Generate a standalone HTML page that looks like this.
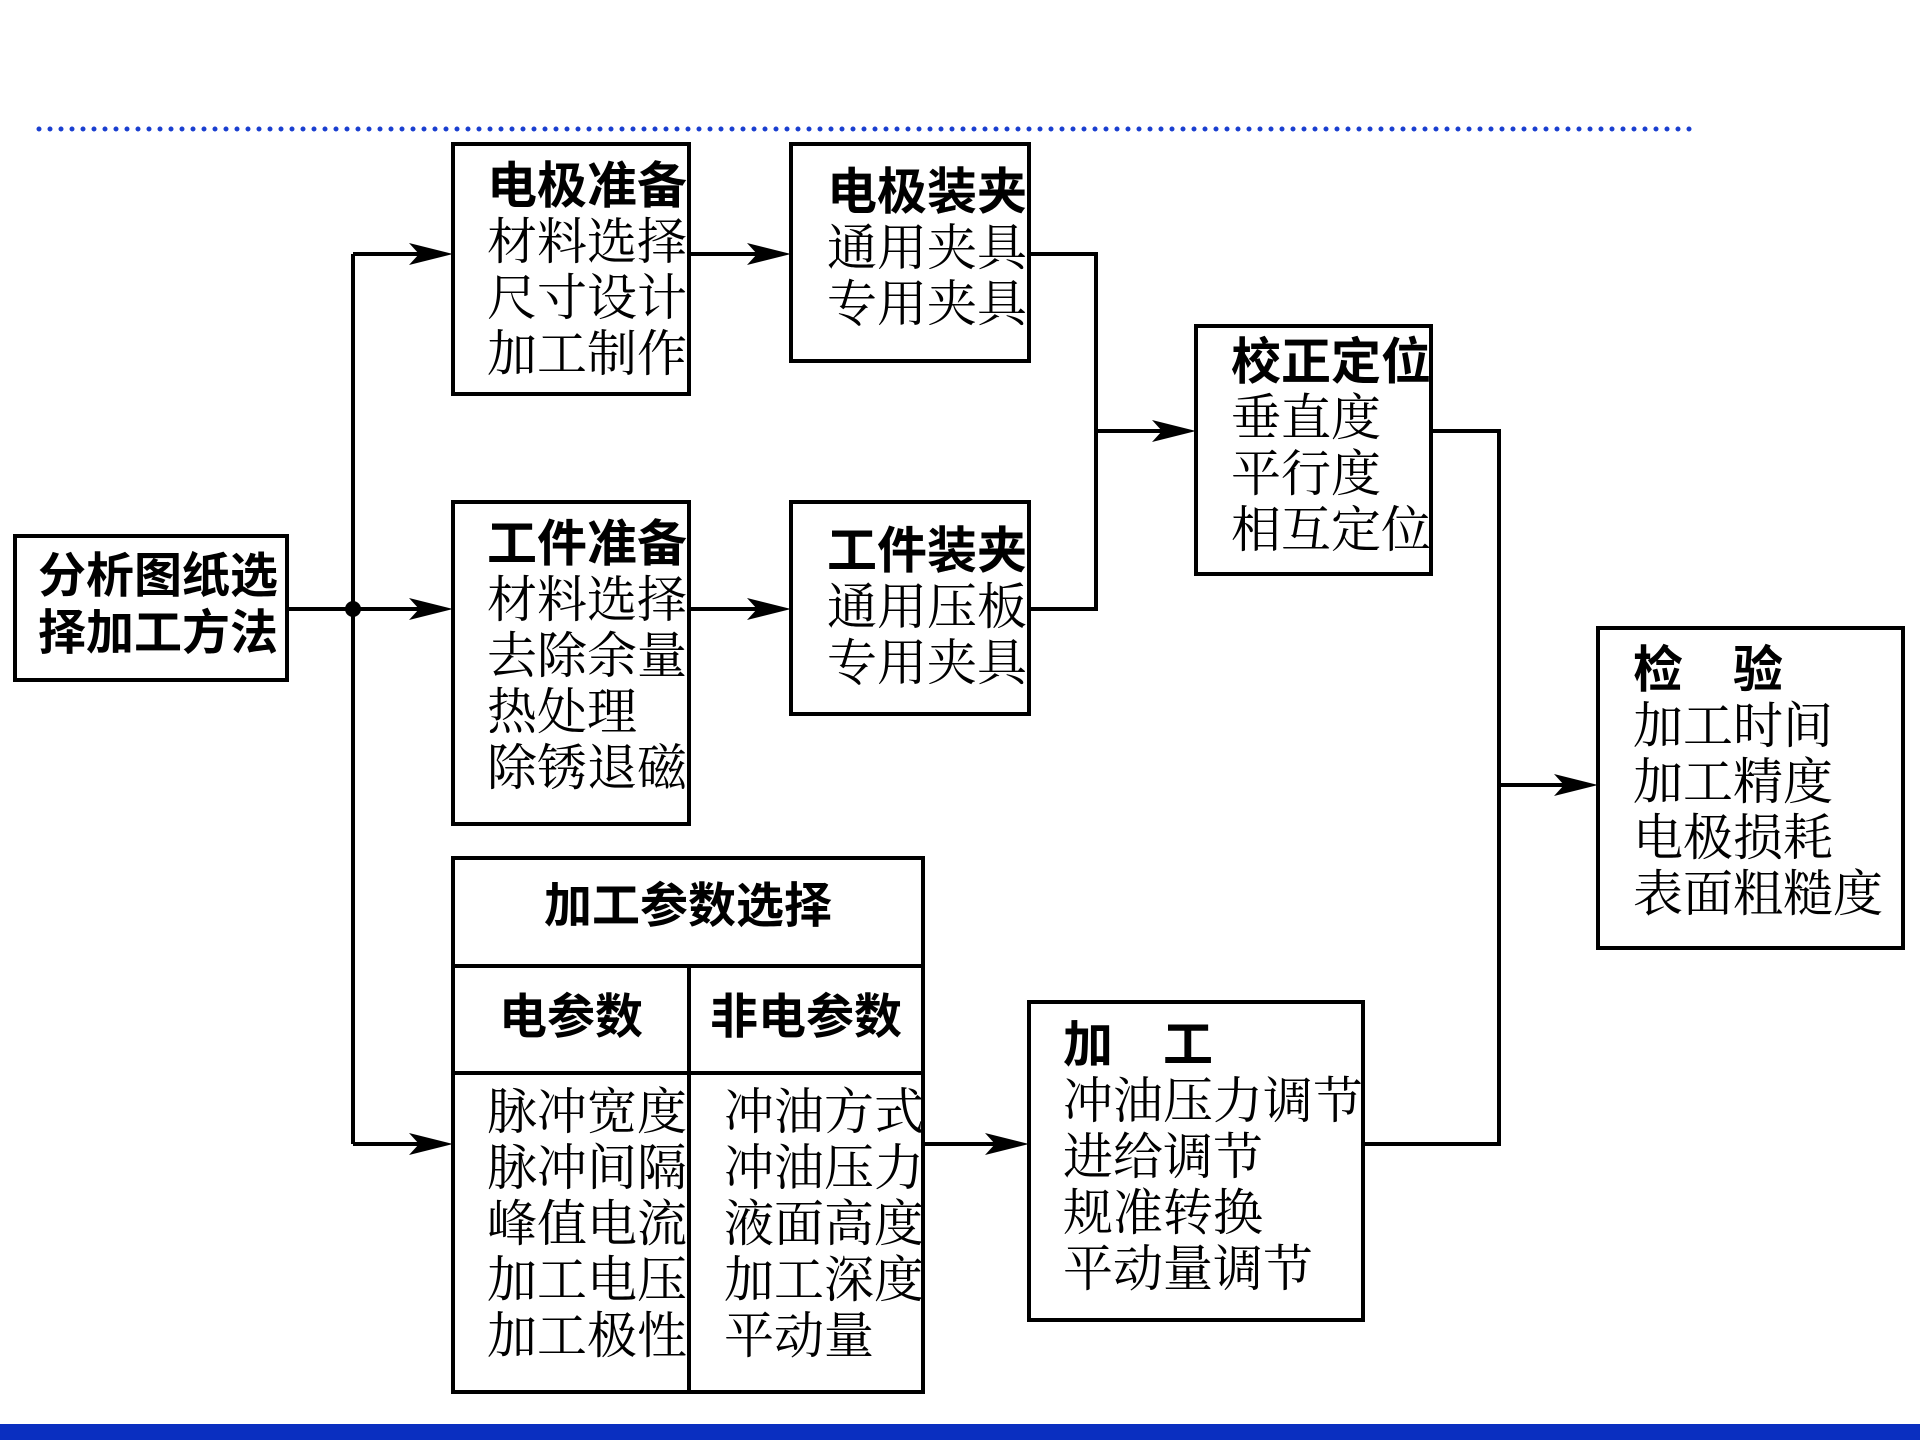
<!DOCTYPE html>
<html><head><meta charset="utf-8"><style>
body{margin:0;width:1920px;height:1440px;background:#fff;position:relative;overflow:hidden}
.t{position:absolute;font-family:"Liberation Serif","Noto Serif CJK SC",serif;font-size:50px;line-height:56px;color:#000;white-space:pre}
.t b{font-family:"Liberation Sans","Noto Sans CJK SC",sans-serif;font-weight:bold}
.s{font-family:"Liberation Sans","Noto Sans CJK SC",sans-serif;font-weight:bold}
</style></head><body>
<svg width="1920" height="1440" style="position:absolute;left:0;top:0">
<line x1="39" y1="129" x2="1696" y2="129" stroke="#1a3fd0" stroke-width="5" stroke-linecap="round" stroke-dasharray="0 11"/>
<rect x="0" y="1424" width="1920" height="16" fill="#0a2fc0"/>
<g fill="none" stroke="#000" stroke-width="4">
<rect x="15" y="536" width="272" height="144"/>
<rect x="453" y="144" width="236" height="250"/>
<rect x="453" y="502" width="236" height="322"/>
<rect x="791" y="144" width="238" height="217"/>
<rect x="791" y="502" width="238" height="212"/>
<rect x="1196" y="326" width="235" height="248"/>
<rect x="453" y="858" width="470" height="534"/>
<line x1="453" y1="966" x2="923" y2="966"/>
<line x1="453" y1="1073" x2="923" y2="1073"/>
<line x1="689" y1="966" x2="689" y2="1392"/>
<rect x="1029" y="1002" width="334" height="318"/>
<rect x="1598" y="628" width="305" height="320"/>
<polyline points="287,609 353,609"/>
<polyline points="353,254 353,1144"/>
<line x1="353" y1="254" x2="426" y2="254"/>
<line x1="353" y1="609" x2="426" y2="609"/>
<line x1="353" y1="1144" x2="426" y2="1144"/>
<line x1="689" y1="254" x2="764" y2="254"/>
<line x1="689" y1="609" x2="764" y2="609"/>
<polyline points="1029,254 1096,254 1096,609 1029,609"/>
<line x1="1096" y1="431" x2="1170" y2="431"/>
<polyline points="1431,431 1499,431 1499,1144 1363,1144"/>
<line x1="1499" y1="785" x2="1572" y2="785"/>
<line x1="923" y1="1144" x2="1002" y2="1144"/>
</g>
<circle cx="353" cy="609" r="8" fill="#000"/>
<g fill="#000">
<polygon points="453,254 409,243 419,254 409,265"/>
<polygon points="453,609 409,598 419,609 409,620"/>
<polygon points="453,1144 409,1133 419,1144 409,1155"/>
<polygon points="791,254 747,243 757,254 747,265"/>
<polygon points="791,609 747,598 757,609 747,620"/>
<polygon points="1196,431 1152,420 1162,431 1152,442"/>
<polygon points="1598,785 1554,774 1564,785 1554,796"/>
<polygon points="1029,1144 985,1133 995,1144 985,1155"/>
</g>
</svg>
<div class="t s" style="left:38px;top:548px;font-size:48px;line-height:57px">分析图纸选
择加工方法</div>
<div class="t" style="left:487px;top:158px"><b>电极准备</b>
材料选择
尺寸设计
加工制作</div>
<div class="t" style="left:487px;top:516px"><b>工件准备</b>
材料选择
去除余量
热处理
除锈退磁</div>
<div class="t" style="left:827px;top:164px"><b>电极装夹</b>
通用夹具
专用夹具</div>
<div class="t" style="left:827px;top:523px"><b>工件装夹</b>
通用压板
专用夹具</div>
<div class="t" style="left:1231px;top:334px"><b>校正定位</b>
垂直度
平行度
相互定位</div>
<div class="t s" style="left:453px;top:879px;width:470px;text-align:center;font-size:48px">加工参数选择</div>
<div class="t s" style="left:453px;top:990px;width:236px;text-align:center;font-size:48px">电参数</div>
<div class="t s" style="left:689px;top:990px;width:234px;text-align:center;font-size:48px">非电参数</div>
<div class="t" style="left:487px;top:1084px">脉冲宽度
脉冲间隔
峰值电流
加工电压
加工极性</div>
<div class="t" style="left:724px;top:1084px">冲油方式
冲油压力
液面高度
加工深度
平动量</div>
<div class="t" style="left:1063px;top:1017px"><b>加　工</b>
冲油压力调节
进给调节
规准转换
平动量调节</div>
<div class="t" style="left:1633px;top:642px"><b>检　验</b>
加工时间
加工精度
电极损耗
表面粗糙度</div>
</body></html>
